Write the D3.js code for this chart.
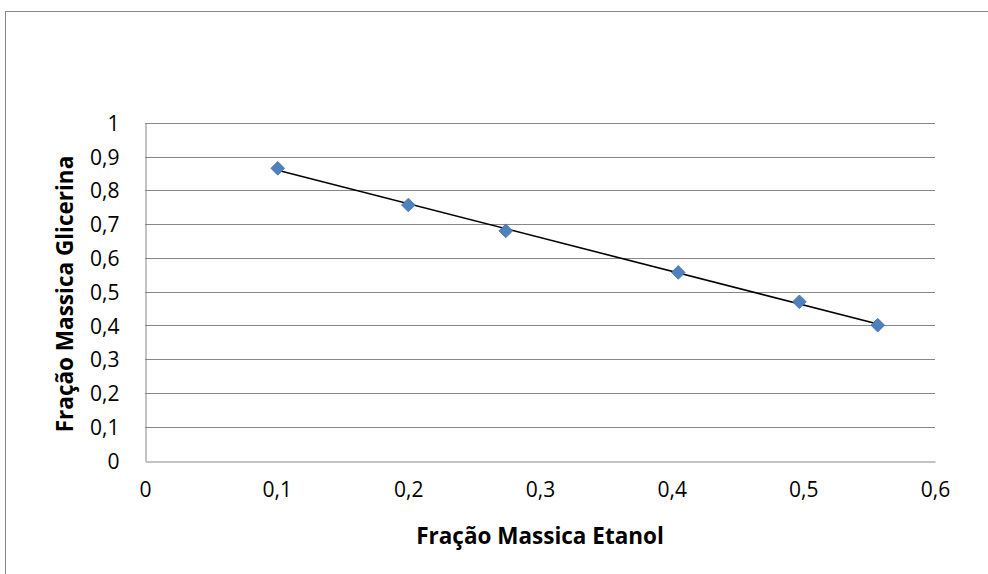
<!DOCTYPE html>
<html>
<head>
<meta charset="utf-8">
<script src="https://cdn.jsdelivr.net/npm/d3@7"></script>
<style>
  html, body { margin: 0; padding: 0; background: #fff; }
  svg { display: block; }
  svg text { font-family: "Open Sans", sans-serif; }
</style>
</head>
<body>
<svg id="chart" width="988" height="574"></svg>
<script>
// Mass fractions: ethanol (x) vs glycerin (y)
const etanol    = [0.1008, 0.2, 0.274, 0.405, 0.497, 0.5565];
const glicerina = [0.865, 0.7565, 0.680, 0.557, 0.470, 0.401];
const xTicks = [0, 0.1, 0.2, 0.3, 0.4, 0.5, 0.6];
const yTicks = [0, 0.1, 0.2, 0.3, 0.4, 0.5, 0.6, 0.7, 0.8, 0.9, 1];
const xTitle = "Fração Massica Etanol";
const yTitle = "Fração Massica Glicerina";

const svg = d3.select("#chart");
const plot = { left: 145, right: 935, top: 122.7, bottom: 460.7 };

const x = d3.scaleLinear().domain([0, 0.6]).range([plot.left, plot.right]);
const y = d3.scaleLinear().domain([0, 1]).range([plot.bottom, plot.top]);

const fmt = v => String(+v.toFixed(1)).replace(".", ",");
const grey = "#878787";

// chart frame
svg.append("rect")
  .attr("x", 5.5).attr("y", 11.5)
  .attr("width", 1000).attr("height", 600)
  .attr("fill", "none").attr("stroke", grey).attr("stroke-width", 1);

// horizontal gridlines
svg.append("g")
  .selectAll("line")
  .data(yTicks.filter(t => t > 0))
  .join("line")
  .attr("x1", plot.left).attr("x2", plot.right)
  .attr("y1", d => Math.round(y(d)) + 0.5).attr("y2", d => Math.round(y(d)) + 0.5)
  .attr("stroke", grey).attr("stroke-width", 1);

// y axis
const yAxis = svg.append("g")
  .attr("transform", `translate(${Math.round(plot.left) + 0.5},0)`)
  .call(d3.axisLeft(y).tickValues(yTicks).tickFormat(fmt).tickSize(0).tickPadding(26));
yAxis.attr("font-family", null).attr("font-size", null);
yAxis.select(".domain").attr("stroke", grey);
yAxis.selectAll("text").attr("font-size", 21).attr("fill", "#000").attr("dy", "0.36em");

// x axis
const xAxis = svg.append("g")
  .attr("transform", `translate(0,${Math.round(plot.bottom) + 0.5})`)
  .call(d3.axisBottom(x).tickValues(xTicks).tickFormat(fmt).tickSize(0).tickPadding(21));
xAxis.attr("font-family", null).attr("font-size", null);
xAxis.select(".domain").attr("stroke", grey);
xAxis.selectAll("text").attr("font-size", 21).attr("fill", "#000");

// linear trendline over the data range
const pts = etanol.map((v, i) => [v, glicerina[i]]);
const mx = d3.mean(etanol), my = d3.mean(glicerina);
const slope = d3.sum(pts, p => (p[0] - mx) * (p[1] - my)) / d3.sum(pts, p => (p[0] - mx) ** 2);
const icpt = my - slope * mx;
const [x0, x1] = d3.extent(etanol);
svg.append("line")
  .attr("x1", x(x0)).attr("y1", y(icpt + slope * x0))
  .attr("x2", x(x1)).attr("y2", y(icpt + slope * x1))
  .attr("stroke", "#000").attr("stroke-width", 1.6);

// diamond markers
svg.append("g")
  .selectAll("path")
  .data(pts)
  .join("path")
  .attr("d", d3.symbol(d3.symbolDiamond2, 120))
  .attr("transform", d => `translate(${x(d[0])},${y(d[1])})`)
  .attr("fill", "#4F81BD").attr("stroke", "#3F72AE").attr("stroke-width", 0.8);

// axis titles
svg.append("text")
  .attr("x", 540).attr("y", 544)
  .attr("text-anchor", "middle").attr("font-size", 22.5).attr("font-weight", "bold")
  .text(xTitle);
svg.append("text")
  .attr("transform", `translate(73,294) rotate(-90)`)
  .attr("text-anchor", "middle").attr("font-size", 22.5).attr("font-weight", "bold")
  .text(yTitle);
</script>
</body>
</html>
